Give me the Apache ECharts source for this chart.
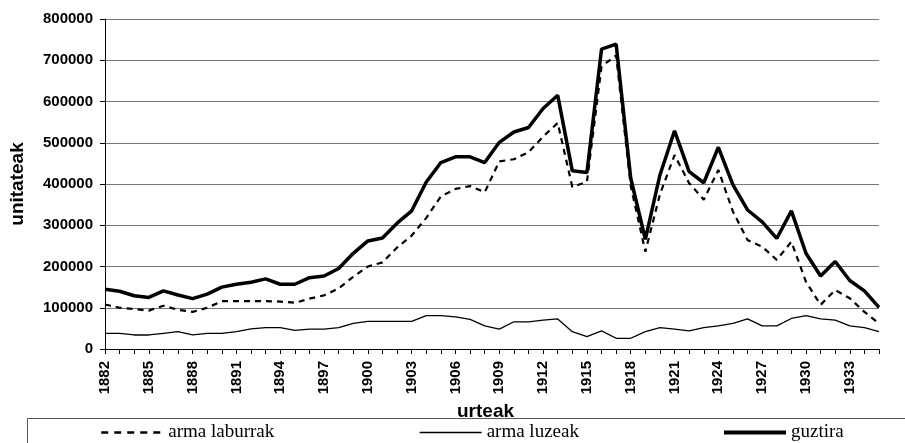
<!DOCTYPE html>
<html>
<head>
<meta charset="utf-8">
<script src="https://cdn.jsdelivr.net/npm/echarts@6/dist/echarts.min.js"></script>
<style>
html,body{margin:0;padding:0;background:#fff;}
#chart{width:905px;height:443px;}
</style>
</head>
<body>
<div id="chart"></div>
<script>
var years = [];
for (var y = 1882; y <= 1935; y++) years.push(String(y));

var armaLaburrak = [108000,100000,97000,93000,105000,95000,90000,100000,116000,116000,
  116000,116000,115000,112000,122000,130000,147000,175000,200000,210000,
  246000,275000,318000,370000,388000,395000,380000,455000,460000,477000,
  515000,548000,393000,405000,685000,712000,395000,236000,375000,470000,
  402000,362000,434000,333000,264000,248000,216000,260000,163000,107000,
  143000,123000,90000,62000];

var armaLuzeak = [38000,38000,34000,34000,38000,42000,34000,38000,38000,42000,
  49000,52000,52000,45000,48000,48000,52000,62000,67000,67000,
  67000,67000,81000,81000,78000,72000,56000,48000,66000,66000,
  70000,73000,42000,30000,44000,26000,26000,42000,52000,48000,
  44000,52000,56000,62000,73000,56000,56000,74000,81000,73000,
  70000,56000,52000,42000];

var guztira = [145000,140000,129000,125000,141000,131000,122000,133000,150000,157000,
  162000,170000,157000,157000,173000,177000,195000,232000,262000,269000,
  305000,335000,405000,452000,466000,466000,452000,501000,526000,537000,
  583000,615000,432000,428000,727000,739000,414000,266000,422000,529000,
  430000,403000,489000,398000,337000,308000,268000,335000,232000,177000,
  212000,166000,141000,101000];

var chart = echarts.init(document.getElementById('chart'), null, {renderer: 'canvas'});
var sans = '"Liberation Sans", Arial, sans-serif';
var serif = '"Liberation Serif", "Times New Roman", serif';
var legendText = {fontFamily: serif, fontSize: 19, color: '#000'};
function legendFor(name, left, lineStyle) {
  return {data: [name], left: left, top: 423, itemWidth: 62, itemHeight: 14, textStyle: legendText,
    itemGap: 0, padding: 0, itemStyle: {opacity: 0, borderWidth: 0}, lineStyle: lineStyle};
}

chart.setOption({
  animation: false,
  backgroundColor: '#fff',
  grid: {left: 104, right: 26, top: 19, bottom: 94, containLabel: false},
  legend: [
    legendFor('arma laburrak', 100, {color: '#000', width: 2.5, type: [7, 6]}),
    legendFor('arma luzeak', 419, {color: '#000', width: 1.3}),
    legendFor('guztira', 722, {color: '#000', width: 4})
  ],
  graphic: [
    {type: 'polyline', silent: true, shape: {points: [[27.5, 443], [27.5, 418.5], [905, 418.5]]},
     style: {stroke: '#555', lineWidth: 1, fill: null}}
  ],
  xAxis: {
    type: 'category',
    data: years,
    boundaryGap: false,
    name: 'urteak',
    nameLocation: 'middle',
    nameGap: 45,
    nameTextStyle: {fontFamily: sans, fontSize: 19, fontWeight: 'bold', color: '#000', padding: [0, 13, 0, 0]},
    axisLine: {lineStyle: {color: '#000', width: 1}},
    axisTick: {show: true, interval: 0, length: 5, lineStyle: {color: '#000'}},
    axisLabel: {interval: 2, rotate: 90, margin: 12, fontFamily: sans, fontSize: 15, fontWeight: 'bold', color: '#000'},
    splitLine: {show: false}
  },
  yAxis: {
    type: 'value',
    min: 0,
    max: 800000,
    interval: 100000,
    name: 'unitateak',
    nameLocation: 'middle',
    nameGap: 78,
    nameTextStyle: {fontFamily: sans, fontSize: 19, fontWeight: 'bold', color: '#000'},
    axisLine: {show: true, lineStyle: {color: '#000', width: 1}},
    axisTick: {show: true, length: 5, lineStyle: {color: '#000'}},
    axisLabel: {margin: 12, fontFamily: sans, fontSize: 15, fontWeight: 'bold', color: '#000',
      formatter: function (v) { return String(v); }},
    splitLine: {show: true, lineStyle: {color: '#777', width: 1}}
  },
  series: [
    {name: 'arma laburrak', type: 'line', data: armaLaburrak, symbol: 'none', z: 3,
     lineStyle: {color: '#000', width: 2.2, type: [6, 5]}, itemStyle: {color: '#000'}},
    {name: 'arma luzeak', type: 'line', data: armaLuzeak, symbol: 'none', z: 3,
     lineStyle: {color: '#000', width: 1.3}, itemStyle: {color: '#000'}},
    {name: 'guztira', type: 'line', data: guztira, symbol: 'none', z: 4,
     lineStyle: {color: '#000', width: 3.5}, itemStyle: {color: '#000'}}
  ]
});
</script>
</body>
</html>
